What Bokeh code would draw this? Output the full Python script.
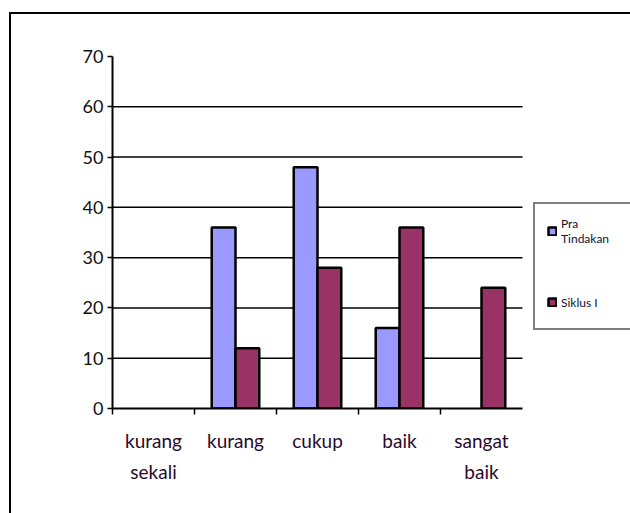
from bokeh.plotting import figure
from bokeh.models import (Range1d, FixedTicker, LinearAxis, Legend, LegendItem,
                          ColumnDataSource, CDSView, BooleanFilter)
from bokeh.embed import file_html
from bokeh.resources import INLINE

categories = ["kurang\nsekali", "kurang", "cukup", "baik", "sangat\nbaik"]
pra_tindakan = [0, 36, 48, 16, 0]
siklus_1 = [0, 12, 28, 36, 24]
series_names = ["Pra\nTindakan", "Siklus I"]
y_ticks = [0, 10, 20, 30, 40, 50, 60, 70]
colors = ["#9999FF", "#993366"]

FONT = "Lato"
n = len(categories)
bar_w = 0.29

# layout (pixels): plot area 410 px wide for the categories, frame runs to the right edge
FIG_W, FIG_H = 619, 499
LEFT, TOP, BOTTOM = 101, 42, 105
CAT_AREA = 410
x_end = n * (FIG_W - LEFT) / CAT_AREA

p = figure(width=FIG_W, height=FIG_H, x_range=Range1d(0, x_end), y_range=Range1d(0, y_ticks[-1]),
           output_backend="svg", toolbar_location=None,
           x_axis_type=None, y_axis_type=None,
           min_border_left=LEFT, min_border_right=0, min_border_top=TOP, min_border_bottom=BOTTOM)
p.margin = (14, 0, 0, 11)
p.styles = {"outline": "2px solid black"}
p.outline_line_color = None
p.background_fill_color = "white"
p.border_fill_color = "white"

# horizontal grid lines limited to the category area
grid_y = y_ticks[1:-1]
p.segment(x0=[0] * len(grid_y), x1=[n] * len(grid_y), y0=grid_y, y1=grid_y,
          line_color="black", line_width=1.5)

# y axis
yax = LinearAxis(ticker=FixedTicker(ticks=y_ticks), axis_line_width=2,
                 major_tick_in=0, major_tick_out=5, major_tick_line_width=1.5,
                 minor_tick_line_color=None,
                 major_label_text_font=FONT, major_label_text_font_size="18px",
                 major_label_text_color="#111111", major_label_standoff=4)
p.add_layout(yax, "left")

# x axis: labels at category centres, ticks (minor) at category boundaries
centers = [i + 0.5 for i in range(n)]
xax = LinearAxis(ticker=FixedTicker(ticks=centers, minor_ticks=list(range(n))),
                 bounds=(0, n),
                 major_label_overrides={c: lab for c, lab in zip(centers, categories)},
                 axis_line_width=2, major_tick_line_color=None,
                 minor_tick_in=0, minor_tick_out=6, minor_tick_line_width=1.5,
                 minor_tick_line_color="black",
                 major_label_text_font=FONT, major_label_text_font_size="19px",
                 major_label_text_line_height=1.35,
                 major_label_text_color="#2a0a2a", major_label_standoff=14)
p.add_layout(xax, "below")

src = ColumnDataSource(dict(
    x_pra=[c - bar_w / 2 for c in centers],
    x_sik=[c + bar_w / 2 for c in centers],
    pra=pra_tindakan, sik=siklus_1))

v_pra = CDSView(filter=BooleanFilter([v > 0 for v in pra_tindakan]))
v_sik = CDSView(filter=BooleanFilter([v > 0 for v in siklus_1]))

r1 = p.vbar(x="x_pra", top="pra", width=bar_w, source=src, view=v_pra,
            fill_color=colors[0], line_color="black", line_width=2.5)
r2 = p.vbar(x="x_sik", top="sik", width=bar_w, source=src, view=v_sik,
            fill_color=colors[1], line_color="black", line_width=2.5)

legend = Legend(items=[LegendItem(label=series_names[0], renderers=[r1]),
                       LegendItem(label=series_names[1], renderers=[r2])],
                location=(421, 78), orientation="vertical",
                border_line_color="black", border_line_width=2,
                background_fill_color="white", background_fill_alpha=1,
                label_text_font=FONT, label_text_font_size="12px",
                label_text_color="#111133", label_text_line_height=1.8,
                glyph_width=10, glyph_height=10, label_standoff=4, label_height=28,
                padding=12, spacing=42, margin=0, label_width=110)
p.add_layout(legend)

open("out.html", "w").write(file_html(p, INLINE))
